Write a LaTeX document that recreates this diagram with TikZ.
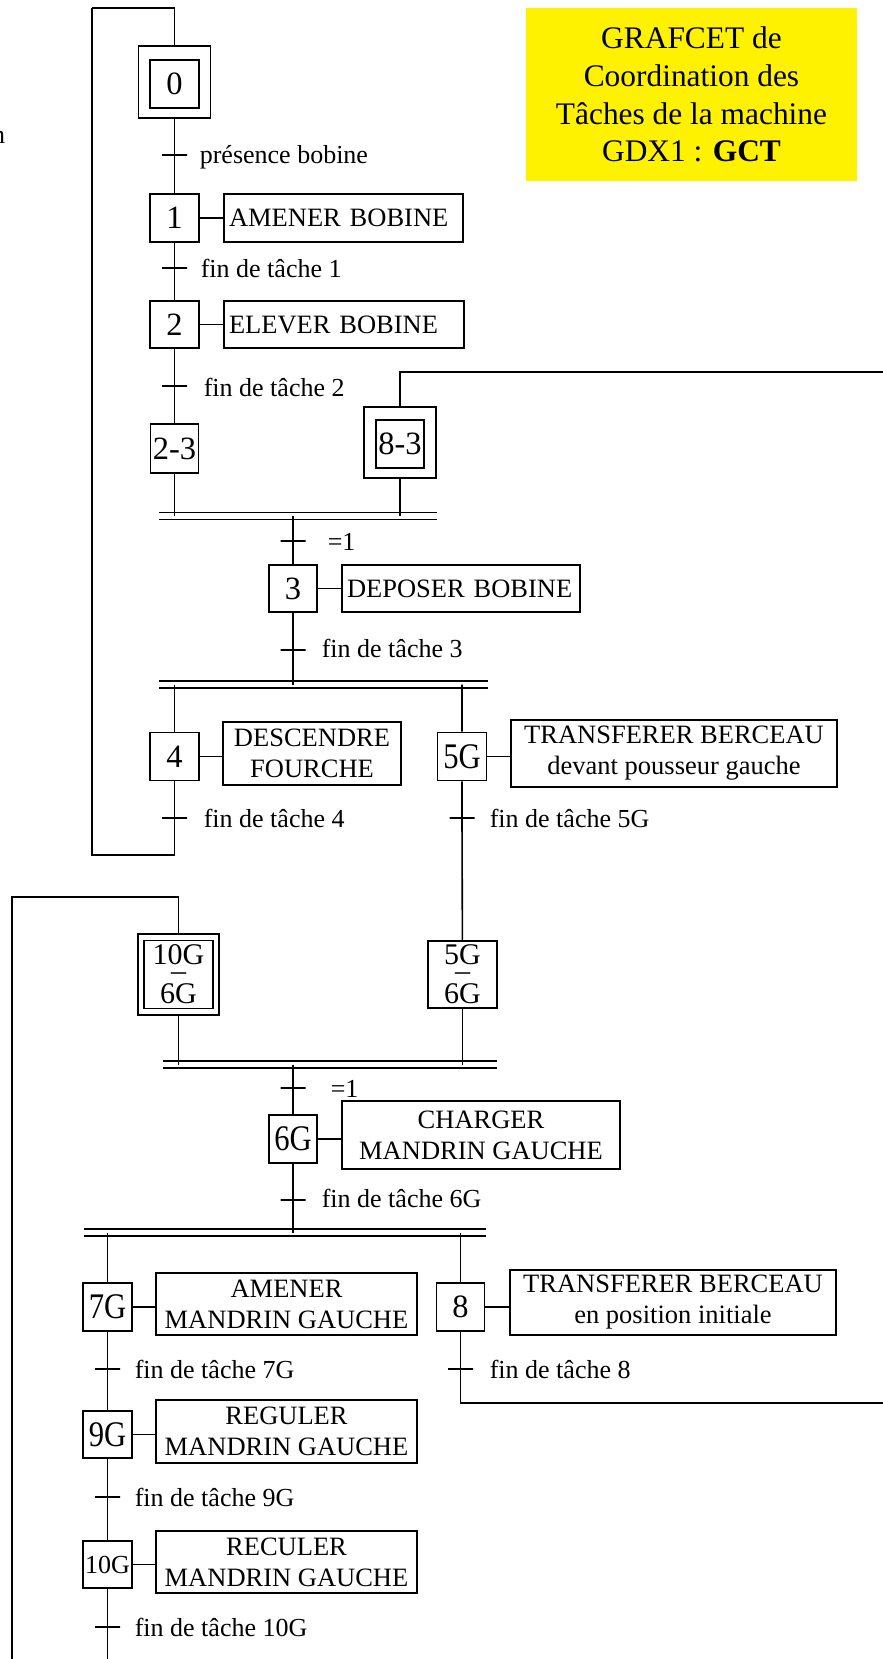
\documentclass[tikz,border=0pt]{standalone}
\usepackage{fontspec}
\setmainfont{Liberation Serif}
\newfontfamily\condserif[FakeStretch=0.85]{Liberation Serif}
\begin{document}
\begin{tikzpicture}[x=1pt,y=-1pt,line width=1.6pt,
  stepbox/.style={draw,inner sep=0pt,minimum width=49pt,minimum height=48pt,font=\fontsize{32.5}{38}\selectfont},
  gstep/.style={stepbox,font=\condserif\fontsize{36}{40}\selectfont},
  dstep/.style={stepbox,align=center,font=\fontsize{30}{36}\selectfont},
  initbox/.style={draw,inner sep=0pt,minimum width=72pt,minimum height=72pt},
  action/.style={draw,inner sep=0pt,align=center,font=\fontsize{26.5}{31}\selectfont},
  actionl/.style={action,align=left,inner xsep=5pt},
  trans/.style={draw,inner sep=0pt,minimum width=25pt,minimum height=0pt},
  cond/.style={anchor=base west,inner sep=0pt,font=\fontsize{26}{30}\selectfont},
  barnode/.style={inner sep=0pt,minimum height=5.5pt},
  barline/.style={line width=1.5pt},
  barthick/.style={line width=2.6pt}]
\useasboundingbox (0,0) rectangle (883,1659);
\node[fill=yellow,minimum width=331pt,minimum height=173pt,inner sep=0pt,align=center,font=\fontsize{31.4}{37.7}\selectfont] (titre) at (691.5,94.5) {GRAFCET de\\Coordination des\\Tâches de la machine\\GDX1 : \textbf{GCT}};
\node[cond,anchor=base east] (nn) at (6,143) {n};
\coordinate (lp1) at (92,855);
\coordinate (lp2) at (92,8);
\coordinate (rt1) at (883,372);
\coordinate (rb1) at (883,1403);
\coordinate (lc1) at (107.5,1659);
\coordinate (lc2) at (12,1659);
\coordinate (lc3) at (12,897);
\node[initbox] (s0f) at (174.5,82) {};
\node[stepbox] (s0) at (174.5,84) {0};
\node[trans] (t0) at (174.5,155) {};
\node[cond] (c0) at (199,163) {présence bobine};
\node[stepbox] (s1) at (174.5,218) {1};
\node[actionl,text width=229pt,minimum height=48pt] (a1) at (343.5,218) {AMENER BOBINE};
\node[trans] (t1) at (174.5,268) {};
\node[cond] (c1) at (200,277) {fin de tâche 1};
\node[stepbox,minimum height=47pt] (s2) at (174.5,324.5) {2};
\node[actionl,text width=230pt,minimum height=47pt] (a2) at (344,324.5) {ELEVER BOBINE};
\node[trans] (t2) at (174.5,386) {};
\node[cond] (c2) at (203,396) {fin de tâche 2};
\node[stepbox,minimum width=48pt,minimum height=49pt] (s23) at (174.5,448.5) {2-3};
\node[initbox,minimum height=71pt] (s83f) at (400,442.5) {};
\node[stepbox,minimum width=48pt] (s83) at (400,444) {8-3};
\node[barnode,minimum width=276pt] (b1) at (298,516) {};
\node[trans] (t23) at (293,541) {};
\node[cond] (c23) at (327,550) {=1};
\node[stepbox,minimum width=48pt,minimum height=47pt] (s3) at (293,588.5) {3};
\node[actionl,text width=228pt,minimum height=47pt] (a3) at (461,588.5) {DEPOSER BOBINE};
\node[trans] (t3) at (293,650) {};
\node[cond] (c3) at (321,657) {fin de tâche 3};
\node[barnode,minimum width=327pt] (b2) at (323.5,684.5) {};
\node[stepbox] (s4) at (174.5,756.5) {4};
\node[action,minimum width=178pt,minimum height=63pt] (a4) at (312,753.5) {DESCENDRE\\FOURCHE};
\node[gstep] (s5) at (462,756.5) {5G};
\node[action,minimum width=326pt,minimum height=67pt] (a5) at (674,753.5) {TRANSFERER BERCEAU\\devant pousseur gauche};
\node[trans] (t4) at (174.5,818) {};
\node[cond] (c4) at (203,827) {fin de tâche 4};
\node[trans] (t5) at (462,818) {};
\node[cond] (c5) at (489,827) {fin de tâche 5G};
\node[initbox,minimum width=81pt,minimum height=81pt] (s106f) at (178.5,974.5) {};
\node[dstep,minimum width=69pt,minimum height=68pt] (s106) at (178.5,974.5) {10G\\[-20pt]–\\[-13pt]6G};
\node[dstep,minimum width=69pt,minimum height=67pt] (s56) at (462.5,974.5) {5G\\[-20pt]–\\[-13pt]6G};
\node[barnode,minimum width=332pt] (b3) at (330,1064.5) {};
\node[trans] (t56) at (293,1088) {};
\node[cond] (c56) at (330,1097) {=1};
\node[gstep,minimum width=48pt] (s6) at (293,1139) {6G};
\node[action,minimum width=278pt,minimum height=68pt] (a6) at (481,1135) {CHARGER\\MANDRIN GAUCHE};
\node[trans] (t6) at (293,1200) {};
\node[cond] (c6) at (321,1207) {fin de tâche 6G};
\node[barnode,minimum width=400pt] (b4) at (285,1232.5) {};
\node[gstep] (s7) at (107.5,1307) {7G};
\node[action,minimum width=261pt,minimum height=62pt] (a7) at (286.5,1304) {AMENER\\MANDRIN GAUCHE};
\node[stepbox,minimum width=48pt] (s8) at (460.5,1307) {8};
\node[action,minimum width=326pt,minimum height=65pt] (a8) at (673,1302.5) {TRANSFERER BERCEAU\\en position initiale};
\node[trans] (t7) at (107.5,1369) {};
\node[cond] (c7) at (134,1378) {fin de tâche 7G};
\node[trans] (t8) at (460.5,1369) {};
\node[cond] (c8) at (489,1378) {fin de tâche 8};
\node[gstep,minimum height=47pt] (s9) at (107.5,1434.5) {9G};
\node[action,minimum width=261pt,minimum height=63pt] (a9) at (286.5,1431.5) {REGULER\\MANDRIN GAUCHE};
\node[trans] (t9) at (107.5,1497) {};
\node[cond] (c9) at (134,1506) {fin de tâche 9G};
\node[stepbox,minimum height=47pt,font=\fontsize{26}{30}\selectfont] (s10) at (107.5,1564.5) {10G};
\node[action,minimum width=261pt,minimum height=62pt] (a10) at (286.5,1562) {RECULER\\MANDRIN GAUCHE};
\node[trans] (t10) at (107.5,1627) {};
\node[cond] (c10) at (134,1636) {fin de tâche 10G};
\draw[barline] (b1.north west) -- (b1.north east) (b1.south west) -- (b1.south east);
\draw[barline] (b2.north west) -- (b2.north east) (b2.south west) -- (b2.south east);
\draw[barthick] (b3.north west) -- (b3.north east);
\draw[barline] (b3.south west) -- (b3.south east);
\draw[barthick] (b4.north west) -- (b4.north east);
\draw[barline] (b4.south west) -- (b4.south east);
\draw (lp2) -| (s0f);
\draw (s0f) -- (t0) -- (s1) -- (t1) -- (s2) -- (t2) -- (s23) -- (s23 |- b1);
\draw (s1.east) -- (s1.east -| a1.west);
\draw (s2.east) -- (s2.east -| a2.west);
\draw (s83f) |- (rt1);
\draw (s83f) -- (s83f |- b1);
\draw (t23 |- b1) -- (t23) -- (s3) -- (t3) -- (t3 |- b2);
\draw (s3.east) -- (s3.east -| a3.west);
\draw (s4 |- b2) -- (s4) -- (t4) |- (lp1) -- (lp2);
\draw (s4.east) -- (s4.east -| a4.west);
\draw (s5 |- b2) -- (s5) -- (t5) -- (s56);
\draw (s5.east) -- (s5.east -| a5.west);
\draw (lc2) -- (lc3) -| (s106f);
\draw (s106f) -- (s106f |- b3);
\draw (s56) -- (s56 |- b3);
\draw (t56 |- b3) -- (t56) -- (s6) -- (t6) -- (t6 |- b4);
\draw (s6.east) -- (s6.east -| a6.west);
\draw (s7 |- b4) -- (s7) -- (t7) -- (s9) -- (t9) -- (s10) -- (t10) -- (lc1);
\draw (s7.east) -- (s7.east -| a7.west);
\draw (s9.east) -- (s9.east -| a9.west);
\draw (s10.east) -- (s10.east -| a10.west);
\draw (s8 |- b4) -- (s8) -- (t8) |- (rb1);
\draw (s8.east) -- (s8.east -| a8.west);
\end{tikzpicture}
\end{document}
